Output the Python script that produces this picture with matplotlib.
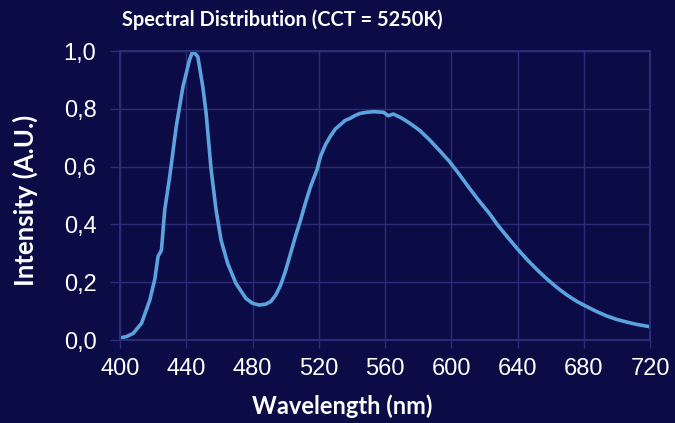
import matplotlib
matplotlib.use("Agg")
import matplotlib.pyplot as plt

plt.rcParams["font.family"] = ["Liberation Sans", "DejaVu Sans"]

wavelength_nm = [400, 404, 408, 413, 418, 421, 423, 425, 427, 430, 434, 438, 442, 444,
                 447, 450, 452, 455, 458, 461, 465, 470, 476, 480, 484, 488, 491, 494,
                 497, 500, 503, 506, 509, 512, 515, 519, 521, 524, 527, 530, 533, 536,
                 539, 542, 545, 549, 553, 556, 559, 562, 565, 570, 575, 581, 587, 593,
                 599, 605, 611, 617, 623, 628, 634, 640, 646, 652, 658, 664, 670, 676,
                 682, 688, 694, 700, 706, 712, 720]
intensity = [0.007, 0.012, 0.023, 0.058, 0.138, 0.21, 0.29, 0.31, 0.45, 0.565, 0.74,
             0.876, 0.97, 1.0, 0.98, 0.876, 0.785, 0.59, 0.45, 0.346, 0.265, 0.196,
             0.144, 0.127, 0.121, 0.124, 0.133, 0.155, 0.19, 0.24, 0.3, 0.36, 0.415,
             0.475, 0.53, 0.59, 0.634, 0.675, 0.705, 0.73, 0.745, 0.76, 0.767, 0.777,
             0.784, 0.788, 0.79, 0.789, 0.788, 0.776, 0.782, 0.768, 0.75, 0.725, 0.692,
             0.655, 0.617, 0.572, 0.525, 0.48, 0.438, 0.398, 0.356, 0.315, 0.277, 0.242,
             0.21, 0.181, 0.155, 0.133, 0.115, 0.098, 0.083, 0.071, 0.062, 0.054, 0.046]

x_ticks = [400, 440, 480, 520, 560, 600, 640, 680, 720]
y_ticks = [0.0, 0.2, 0.4, 0.6, 0.8, 1.0]
y_tick_labels = ["0,0", "0,2", "0,4", "0,6", "0,8", "1,0"]

bg = "#0b0c45"
grid_c = "#2c2b78"
line_c = "#5ba3de"

fig = plt.figure(figsize=(6.75, 4.23), dpi=100, facecolor=bg)
ax = fig.add_axes([120/675, 1-340/423, 530/675, 289/423], facecolor=bg)
ax.plot(wavelength_nm, intensity, color=line_c, lw=2.6, solid_capstyle="round",
        solid_joinstyle="round")
ax.set_xlim(400, 720)
ax.set_ylim(0, 1.0)
ax.set_xticks(x_ticks)
ax.set_xticklabels([str(v) for v in x_ticks])
ax.set_yticks(y_ticks)
ax.set_yticklabels(y_tick_labels)
ax.grid(True, color=grid_c, lw=1.0)
for s in ax.spines.values():
    s.set_color(grid_c)
    s.set_linewidth(1.5)
ax.tick_params(axis="x", colors="white", color=grid_c, length=6, width=1.0,
               labelsize=17, pad=7)
ax.tick_params(axis="y", colors="white", color=grid_c, length=7, width=1.0,
               labelsize=17, pad=10)

fig.text(282/675, 1-20/423, "Spectral Distribution (CCT = 5250K)", ha="center", va="center",
         color="white", fontsize=14.4, fontweight="bold", family="Lato")
fig.text(342/675, 1-406/423, "Wavelength (nm)", ha="center", va="center",
         color="white", fontsize=17, fontweight="bold", family="Lato")
fig.text(25/675, 1-200/423, "Intensity (A.U.)", ha="center", va="center", rotation=90,
         color="white", fontsize=18.5, fontweight="bold", family="Lato")

fig.savefig("out.png", dpi=100, facecolor=bg)
